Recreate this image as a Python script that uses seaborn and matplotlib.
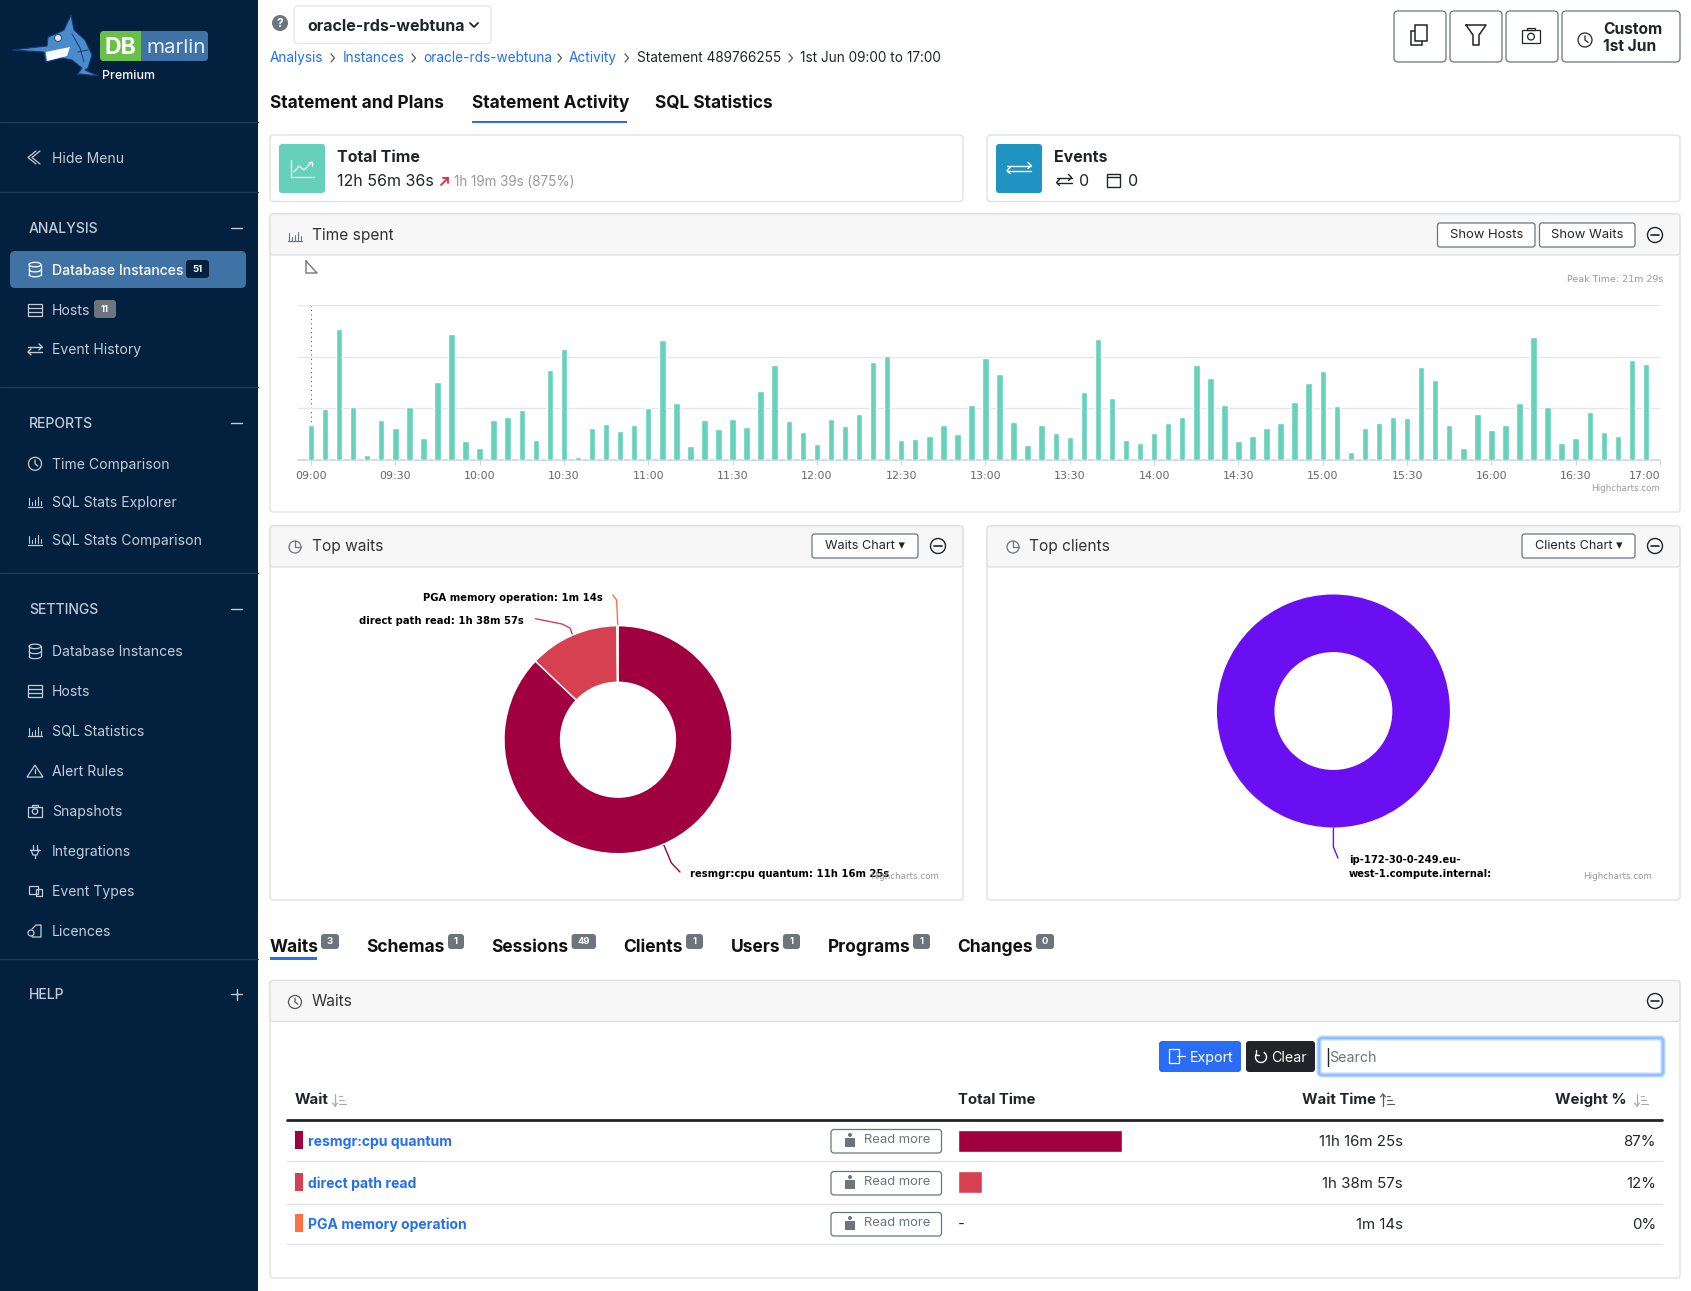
import matplotlib
matplotlib.use('Agg')
import matplotlib.pyplot as plt
from matplotlib.patches import FancyBboxPatch, Rectangle, Circle, Ellipse, Polygon, Arc
import pandas as pd
import seaborn as sns

W, H = 1691, 1291

# seconds per 5 minute bucket, 09:00 to 16:55
time_spent = [
    344, 502, 1289, 522, 49, 394, 315, 522, 216, 768, 1240, 187, 118, 394, 423, 492,
    197, 886, 1092, 30, 315, 354, 285, 344, 512, 1181, 561, 138, 394, 305, 403, 325,
    679, 935, 384, 276, 157, 403, 335, 453, 964, 1023, 197, 207, 236, 344, 256, 541,
    1004, 846, 374, 148, 344, 266, 226, 669, 1191, 610, 197, 167, 266, 364, 423, 935,
    807, 541, 187, 236, 315, 364, 571, 758, 876, 531, 79, 315, 364, 423, 413, 915,
    787, 344, 118, 453, 295, 344, 561, 1210, 522, 167, 216, 472, 276, 236, 984, 945,
]
axis_ticks = ['09:00', '09:30', '10:00', '10:30', '11:00', '11:30', '12:00', '12:30', '13:00',
              '13:30', '14:00', '14:30', '15:00', '15:30', '16:00', '16:30', '17:00']
axis_grid = [507, 1013, 1520]

wait_names = ['resmgr:cpu quantum', 'direct path read', 'PGA memory operation']
wait_seconds = [40585, 5937, 74]
wait_times = ['11h 16m 25s', '1h 38m 57s', '1m 14s']
wait_weights = ['87%', '12%', '0%']
wait_colors = ['#A0003F', '#D64050', '#FF7043']
client_seconds = [46596]
client_colors = ['#6A0FF2']

NAVY = '#03213F'
LINK = '#2470F0'
DARK = '#212529'
BORDER = '#E0E1E3'
SIDE_TXT = '#C3CCD6'

sns.set_theme(style='white')
plt.rcParams['font.family'] = ['Inter', 'DejaVu Sans']

fig = plt.figure(figsize=(W / 100, H / 100), dpi=100, facecolor='white')
ui = fig.add_axes([0, 0, 1, 1])
ui.set_xlim(0, W)
ui.set_ylim(H, 0)
ui.axis('off')


def px_axes(x, y, w, h):
    return fig.add_axes([x / W, 1 - (y + h) / H, w / W, h / H], facecolor='none')


def txt(x, y, s, px=14, color=DARK, weight='normal', ha='left', family=None, z=5):
    kw = {'family': family} if family else {}
    return ui.text(x, y + 0.36 * px, s, fontsize=px * 0.72, color=color, fontweight=weight, ha=ha,
                   va='baseline', zorder=z, **kw)


def box(x0, y0, x1, y1, r=4, fc='white', ec='none', lw=1, z=1):
    p = FancyBboxPatch((x0, y0), x1 - x0, y1 - y0, boxstyle=f'round,pad=0,rounding_size={r}',
                       fc=fc, ec=ec, lw=lw, zorder=z)
    ui.add_patch(p)
    return p


def line(xs, ys, color=SIDE_TXT, lw=1, z=6, **kw):
    ui.plot(xs, ys, color=color, lw=lw, zorder=z, solid_capstyle='round', **kw)


def outline(patch):
    patch.set_zorder(6)
    ui.add_patch(patch)


# icons, small and rough
def icon_db(x, y, c=SIDE_TXT):
    outline(Ellipse((x, y - 5), 12, 4.5, fc='none', ec=c, lw=0.9))
    line([x - 6, x - 6], [y - 5, y + 5], c, 0.9)
    line([x + 6, x + 6], [y - 5, y + 5], c, 0.9)
    for dy in (0, 5):
        outline(Arc((x, y + dy), 12, 4.5, theta1=0, theta2=180, ec=c, lw=0.9))


def icon_hosts(x, y, c=SIDE_TXT):
    outline(Rectangle((x - 7, y - 6), 14, 12, fc='none', ec=c, lw=0.9))
    line([x - 7, x + 7], [y - 2, y - 2], c, 0.9)
    line([x - 7, x + 7], [y + 2, y + 2], c, 0.9)


def icon_arrows(x, y, c=SIDE_TXT, s=7):
    line([x - s, x + s], [y - 2.5, y - 2.5], c, 1)
    line([x + s - 3, x + s, x + s - 3], [y - 5.5, y - 2.5, y + 0.5], c, 1)
    line([x + s, x - s], [y + 2.5, y + 2.5], c, 1)
    line([x - s + 3, x - s, x - s + 3], [y - 0.5, y + 2.5, y + 5.5], c, 1)


def icon_bars(x, y, c=SIDE_TXT):
    line([x - 7, x + 7], [y + 5, y + 5], c, 0.9)
    for dx, h in ((-6, 7), (-3, 3), (0, 5), (3, 8), (6, 4)):
        line([x + dx, x + dx], [y + 3.5, y + 3.5 - h], c, 0.8)


def icon_clock(x, y, c=SIDE_TXT, r=6.5):
    outline(Circle((x, y), r, fc='none', ec=c, lw=0.9))
    line([x, x, x + r * 0.45], [y - r * 0.6, y, y + r * 0.35], c, 0.9)


def icon_pie(x, y, c='#6C757D'):
    outline(Circle((x, y), 6, fc='none', ec=c, lw=0.9))
    line([x, x, x + 6], [y - 6, y, y], c, 0.9)


def icon_minus(x, y):
    outline(Circle((x, y), 7.5, fc='none', ec=DARK, lw=1))
    line([x - 4, x + 4], [y, y], DARK, 1.2)


def icon_triangle(x, y, c=SIDE_TXT):
    outline(Polygon([(x, y - 6), (x + 8, y + 6), (x - 8, y + 6)], closed=True, fc='none', ec=c, lw=0.9))
    line([x, x], [y - 2, y + 2], c, 0.9)


def icon_camera(x, y, c=SIDE_TXT, s=1.0):
    outline(Rectangle((x - 7 * s, y - 4.5 * s), 14 * s, 10 * s, fc='none', ec=c, lw=0.9))
    outline(Rectangle((x - 3 * s, y - 6.5 * s), 6 * s, 2 * s, fc='none', ec=c, lw=0.9))
    outline(Circle((x, y + 0.5 * s), 2.7 * s, fc='none', ec=c, lw=0.9))


def icon_plug(x, y, c=SIDE_TXT):
    line([x - 5, x + 5], [y - 1, y - 1], c, 0.9)
    line([x - 4, x - 2, x + 2, x + 4], [y - 1, y + 4, y + 4, y - 1], c, 0.9)
    line([x, x], [y + 4, y + 7], c, 0.9)
    line([x - 2, x - 2], [y - 1, y - 6], c, 0.9)
    line([x + 2, x + 2], [y - 1, y - 6], c, 0.9)


def icon_types(x, y, c=SIDE_TXT):
    outline(Rectangle((x - 6, y - 5), 9, 8, fc='none', ec=c, lw=0.9))
    outline(Rectangle((x + 1, y - 2), 6, 7, fc='none', ec=c, lw=0.9))


def icon_licence(x, y, c=SIDE_TXT):
    line([x - 3, x + 1, x + 6, x + 6, x - 3], [y - 2, y - 6, y - 6, y + 6, y + 6], c, 0.9)
    outline(Circle((x - 4, y + 2), 3, fc=NAVY, ec=c, lw=0.9))


def icon_sort(x, c='#AAAAAA', up=False):
    line([x, x], [1094, 1106], c, 0.9)
    tip = 1094 if up else 1106
    side = 1097 if up else 1103
    line([x - 2.5, x, x + 2.5], [side, tip, side], c, 0.9)
    for k, ln in enumerate((3, 5, 7)):
        line([x + 4, x + 4 + ln], [1096 + 4 * k, 1096 + 4 * k], c, 0.8)


def panel(x0, y0, x1, y1, head=41):
    box(x0, y0, x1, y1, r=3, fc='white', ec=BORDER, lw=1, z=1)
    box(x0, y0, x1, y0 + head, r=3, fc='#F7F7F7', ec=BORDER, lw=1, z=1.1)


def btn(x0, y0, x1, y1, s, px=13):
    box(x0, y0, x1, y1, r=2.5, fc='white', ec='#6C757D', lw=0.9, z=2)
    txt((x0 + x1) / 2, (y0 + y1) / 2 - 1.5, s, px, DARK, ha='center')


def badge(x0, x1, y0, y1, s, fc='#6C757D', px=9.5):
    box(x0, y0, x1, y1, r=3, fc=fc, z=2)
    txt((x0 + x1) / 2, (y0 + y1) / 2 - 0.5, s, px, 'white', 'bold', ha='center')


# sidebar
ui.add_patch(Rectangle((0, 0), 258, H, fc=NAVY, ec='none', zorder=0.5))
for yy in (122, 192, 387, 573, 959):
    line([0, 258], [yy, yy], '#1E3A57', 1, z=1)

box(100, 31, 208, 61, r=4, fc='#3F72A6', z=2)
box(100, 31, 141, 61, r=4, fc='#6ABF4B', z=2.1)
ui.add_patch(Rectangle((135, 31), 6, 30, fc='#6ABF4B', ec='none', zorder=2.1))
txt(120.5, 46, 'DB', 23, 'white', 'bold', ha='center')
txt(146, 46, 'marlin', 20.5, '#E8EEF4')
txt(102, 74.5, 'Premium', 12.5, 'white', '500')
fish = [(12, 50), (47, 46), (48, 37), (58, 33), (64, 30), (71, 15), (74, 30), (85, 40), (92, 55), (88, 68),
        (85, 70), (98, 76), (80, 74), (77, 75), (82, 68), (72, 60), (62, 58), (46, 62), (44, 52)]
ui.add_patch(Polygon(fish, closed=True, fc='#4A8CCB', ec='#123A78', lw=0.8, zorder=2))
ui.add_patch(Polygon([(46, 52), (70, 47), (67, 56), (47, 61)], closed=True, fc='white', ec='none', zorder=2.1))
ui.add_patch(Circle((58, 38), 3.5, fc='#DDE6EF', ec='#123A78', lw=0.6, zorder=2.1))
line([72, 80, 84], [34, 48, 62], '#123A78', 0.7, z=2.2)
line([78, 88], [52, 50], '#123A78', 0.7, z=2.2)

line([40, 32, 40], [151, 157.5, 164], SIDE_TXT, 0.9)
line([36, 28, 36], [151, 157.5, 164], SIDE_TXT, 0.9)
txt(52, 157.5, 'Hide Menu', 14, SIDE_TXT)

box(10, 251, 246, 288, r=5, fc='#4072A6', z=1)
side_sections = [('ANALYSIS', 227.5, '−'), ('REPORTS', 422.8, '−'), ('SETTINGS', 609.3, '−'), ('HELP', 994.4, '+')]
for name, yy, sign in side_sections:
    txt(29, yy, name, 14, SIDE_TXT, '500')
    line([231, 242], [yy, yy], SIDE_TXT, 1)
    if sign == '+':
        line([236.5, 236.5], [yy - 5.5, yy + 5.5], SIDE_TXT, 1)

side_items = [
    ('Database Instances', 269.6, icon_db), ('Hosts', 309.5, icon_hosts), ('Event History', 349.4, icon_arrows),
    ('Time Comparison', 463.8, icon_clock), ('SQL Stats Explorer', 501.5, icon_bars),
    ('SQL Stats Comparison', 539.6, icon_bars), ('Database Instances', 651.4, icon_db), ('Hosts', 691.3, icon_hosts),
    ('SQL Statistics', 731.2, icon_bars), ('Alert Rules', 771.1, icon_triangle), ('Snapshots', 811, icon_camera),
    ('Integrations', 851, icon_plug), ('Event Types', 891, icon_types), ('Licences', 931, icon_licence),
]
for i, (name, yy, icon) in enumerate(side_items):
    active = i == 0
    txt(52, yy, name, 14, 'white' if active else SIDE_TXT, '500' if active else 'normal')
    icon(35, yy, 'white' if active else SIDE_TXT)
badge(186, 209, 260, 278, '51', fc=NAVY)
badge(94, 116, 300, 318, '11')

# top bar
ui.add_patch(Circle((280, 23), 8, fc='#6C757D', ec='none', zorder=2))
txt(280, 23, '?', 12, 'white', 'bold', ha='center')
box(294, 6, 491, 43.5, r=4, fc='white', ec='#E6E7E9', z=1)
txt(307, 25, 'oracle-rds-webtuna', 16, DARK, 'bold')
line([470, 474, 478], [23, 27, 23], DARK, 1.3)

crumbs = [('Analysis', 270, LINK), ('Instances', 342.5, LINK), ('oracle-rds-webtuna', 423.6, LINK),
          ('Activity', 569, LINK), ('Statement 489766255', 636.6, DARK), ('1st Jun 09:00 to 17:00', 800, DARK)]
for s, xx, c in crumbs:
    txt(xx, 57.5, s, 13.6, c)
for xx in (331, 412, 558, 625, 789):
    line([xx, xx + 3.5, xx], [54, 58, 62], '#555555', 0.9)

txt(270, 102, 'Statement and Plans', 17.2, '#111111', 'bold')
txt(472, 102, 'Statement Activity', 17.2, '#111111', 'bold')
txt(655, 102, 'SQL Statistics', 17.2, '#111111', 'bold')
ui.add_patch(Rectangle((472, 120.5), 155, 2.7, fc='#2A6DF4', ec='none', zorder=2))

for x0, x1 in ((1394, 1446), (1450, 1502), (1506, 1558), (1562, 1680)):
    box(x0, 11, x1, 62, r=4, fc='white', ec='#6C757D', lw=0.9)
outline(Rectangle((1411, 31), 11, 14, fc='white', ec=DARK, lw=1.1))
outline(Rectangle((1415, 25), 12, 16, fc='white', ec=DARK, lw=1.1))
ui.plot([1466, 1486, 1479, 1479, 1473, 1473, 1466], [25, 25, 35, 45, 45, 35, 25], color=DARK, lw=1.1, zorder=6)
icon_camera(1531, 36, DARK, 1.25)
icon_clock(1585, 40, DARK, 7)
txt(1603, 28, 'Custom', 15.5, DARK, 'bold')
txt(1603, 45.5, '1st Jun', 15.5, DARK, 'bold')

# summary cards
box(270, 135, 963, 201.5, r=4, ec=BORDER, lw=1)
box(279, 144, 325, 193, r=3, fc='#66D1BB', z=2)
line([291, 291, 314], [160, 177, 177], 'white', 0.9)
line([294, 299, 304, 312], [172, 166, 170, 162], 'white', 0.9)
line([308, 312, 312], [162, 162, 166], 'white', 0.9)
txt(337, 156, 'Total Time', 16, DARK, 'bold')
txt(337, 180, '12h 56m 36s', 16, DARK)
line([441, 448], [185, 178], '#E8263C', 1.3)
line([443, 448, 448], [178, 178, 183], '#E8263C', 1.3)
txt(454, 181, '1h 19m 39s (875%)', 13.5, '#9A9A9A')

box(987, 135, 1680, 201.5, r=4, ec=BORDER, lw=1)
box(996, 144, 1042, 193, r=3, fc='#1F93C1', z=2)
icon_arrows(1019, 168, 'white', 12)
txt(1054, 156, 'Events', 16, DARK, 'bold')
icon_arrows(1064, 180, DARK, 7.5)
txt(1079, 180, '0', 16, DARK)
outline(Rectangle((1107, 174), 13, 13, fc='none', ec=DARK, lw=1))
line([1107, 1120], [177, 177], DARK, 1)
txt(1128, 180, '0', 16, DARK)

# time spent panel
panel(270, 214, 1680, 512)
icon_bars(295, 236, '#6C757D')
txt(312, 234.5, 'Time spent', 15.5, '#333333')
btn(1437.5, 223, 1535, 247, 'Show Hosts')
btn(1539.5, 223, 1635, 247, 'Show Waits')
icon_minus(1655, 235)
ui.plot([306, 306, 317, 306], [261, 273, 273, 261], color='#777777', lw=1, zorder=6)
txt(1663, 279, 'Peak Time: 21m 29s', 9.5, '#999999', ha='right', family='DejaVu Sans')
txt(1660, 487.5, 'Highcharts.com', 8.8, '#999999', ha='right', family='DejaVu Sans')
ui.plot([311, 311], [305, 425], color='#555555', lw=0.8, ls=(0, (1, 3)), zorder=2)

bar_times = pd.date_range('2024-06-01 09:00', periods=len(time_spent), freq='5min').strftime('%H:%M')
df_time = pd.DataFrame({'bucket': bar_times, 'seconds': time_spent})
ax_time = px_axes(297.5, 305, 1362.5, 155)
sns.barplot(data=df_time, x='bucket', y='seconds', color='#67D2BC', saturation=1, width=0.46, ax=ax_time, zorder=3)
ax_time.set_xlim(-0.96, 96)
ax_time.set_ylim(0, axis_grid[-1])
ax_time.set_yticks(axis_grid)
ax_time.set_yticklabels([])
ax_time.set_xticks(range(0, 97, 6))
ax_time.set_xticklabels(axis_ticks, fontsize=7.9, color='#666666', family='DejaVu Sans')
ax_time.get_xticklabels()[-1].set_ha('right')
ax_time.tick_params(axis='x', length=3.6, width=0.8, color='#CCD6EB', pad=4, bottom=True)
ax_time.tick_params(axis='y', length=0)
ax_time.grid(axis='y', color='#E6E6E6', lw=1)
ax_time.set_axisbelow(True)
ax_time.set_xlabel('')
ax_time.set_ylabel('')
sns.despine(ax=ax_time, left=True, right=True, top=True)
ax_time.spines['bottom'].set_color('#CCD6EB')

# top waits panel
panel(270, 526, 963, 900)
icon_pie(295, 547)
txt(312, 545.5, 'Top waits', 15.5, '#333333')
btn(812, 534, 918, 558, 'Waits Chart ▾', 12.7)
icon_minus(938, 546)

ax_waits = px_axes(618 - 114, 739.7 - 114, 228, 228)
ax_waits.pie(wait_seconds, colors=wait_colors, startangle=90, counterclock=False, radius=1,
             wedgeprops={'width': 0.496, 'edgecolor': 'white', 'linewidth': 1})
ax_waits.set_xlim(-1, 1)
ax_waits.set_ylim(-1, 1)

ui.plot([612.8, 616.6, 617.8], [595, 600, 626], color=wait_colors[2], lw=1, zorder=6)
ui.plot([535.4, 562, 570, 572.6], [618.7, 624, 628, 635], color=wait_colors[1], lw=1, zorder=6)
ui.plot([663.8, 671.4, 680], [845, 863, 872], color=wait_colors[0], lw=1, zorder=6)
txt(603, 597, 'PGA memory operation: 1m 14s', 10, '#000000', 'bold', ha='right', family='DejaVu Sans')
txt(524, 620, 'direct path read: 1h 38m 57s', 10, '#000000', 'bold', ha='right', family='DejaVu Sans')
txt(690.5, 873, 'resmgr:cpu quantum: 11h 16m 25s', 10, '#000000', 'bold', family='DejaVu Sans')
txt(939, 875.5, 'Highcharts.com', 8.8, '#999999', ha='right', family='DejaVu Sans')

# top clients panel
panel(987, 526, 1680, 900)
icon_pie(1013, 547)
txt(1029, 545.5, 'Top clients', 15.5, '#333333')
btn(1522, 534, 1635, 558, 'Clients Chart ▾', 12.7)
icon_minus(1655, 546)

ax_clients = px_axes(1333.4 - 116.5, 711 - 116.5, 233, 233)
ax_clients.pie(client_seconds, colors=client_colors, startangle=90, counterclock=False, radius=1,
               wedgeprops={'width': 0.494, 'edgecolor': 'none'})
ax_clients.set_xlim(-1, 1)
ax_clients.set_ylim(-1, 1)
ui.plot([1333.4, 1333.4, 1338], [828, 847, 858], color=client_colors[0], lw=1, zorder=6)
txt(1349, 859.5, 'ip-172-30-0-249.eu-', 10, '#000000', 'bold', family='DejaVu Sans')
txt(1349, 873.5, 'west-1.compute.internal:', 10, '#000000', 'bold', family='DejaVu Sans')
txt(1652, 875.5, 'Highcharts.com', 8.8, '#999999', ha='right', family='DejaVu Sans')

# lower tabs
lower_tabs = [('Waits', 270, '3', 321, 339), ('Schemas', 366, '1', 448, 464), ('Sessions', 491.7, '49', 571.6, 596),
              ('Clients', 623.5, '1', 686, 703), ('Users', 730.5, '1', 783, 800), ('Programs', 827.7, '1', 913, 930),
              ('Changes', 957.5, '0', 1036, 1054)]
for name, xx, count, b0, b1 in lower_tabs:
    txt(xx, 945.5, name, 17.4, '#111111', 'bold')
    badge(b0, b1, 934, 949, count)
ui.add_patch(Rectangle((270, 957), 47, 2.7, fc='#2A6DF4', ec='none', zorder=2))

# waits table
panel(270, 980.5, 1680, 1278)
icon_clock(295, 1002, '#555555')
txt(312, 1000.5, 'Waits', 15.5, '#333333')
icon_minus(1655, 1001)

box(1159, 1041, 1241, 1072, r=3, fc='#2A6DF4', z=2)
outline(Rectangle((1169, 1049), 10, 14, fc='none', ec='white', lw=0.9))
line([1177, 1185], [1056, 1056], 'white', 0.9)
txt(1190, 1056.5, 'Export', 14.2, 'white')
box(1246, 1041, 1315, 1072, r=3, fc='#212529', z=2)
outline(Arc((1261, 1057), 11, 11, theta1=-60, theta2=215, ec='white', lw=1))
line([1255.5, 1255.5, 1259], [1050, 1054.5, 1054.5], 'white', 1)
txt(1271, 1056.5, 'Clear', 14.2, 'white')
box(1319, 1038, 1663, 1075, r=3, fc='white', ec='#B6D4FE', lw=3.5, z=2)
box(1319, 1038, 1663, 1075, r=3, fc='none', ec='#86B7FE', lw=1, z=3)
line([1328, 1328], [1048, 1066], '#222222', 1)
txt(1329, 1056.5, 'Search', 14.2, '#6C757D')

txt(295, 1099, 'Wait', 15, DARK, 'bold')
txt(958, 1099, 'Total Time', 15, DARK, 'bold')
txt(1376, 1099, 'Wait Time', 15, DARK, 'bold', ha='right')
txt(1627, 1099, 'Weight %', 15, DARK, 'bold', ha='right')
icon_sort(335)
icon_sort(1383, '#555555', up=True)
icon_sort(1637)
line([287, 1662], [1120, 1120], '#212529', 2)
for yy in (1161.3, 1203.5, 1244):
    line([287, 1662], [yy, yy], '#E1E3E8', 1)

row_ys = [1142, 1184, 1225]
for name, yy, time_txt, pct, c in zip(wait_names, row_ys, wait_times, wait_weights, wait_colors):
    ui.add_patch(Rectangle((295, yy - 11), 8, 18, fc=c, ec='none', zorder=3))
    txt(307.6, yy - 1, name, 14, LINK, 'bold')
    btn_y = yy - 12.5
    box(831, btn_y, 941.5, btn_y + 23.5, r=3, fc='white', ec='#6C757D', lw=0.9, z=2)
    ui.add_patch(Rectangle((845, btn_y + 8), 10, 9, fc='#6C757D', ec='none', zorder=3))
    ui.add_patch(Circle((850, btn_y + 5.5), 2, fc='#6C757D', ec='none', zorder=3))
    txt(864, btn_y + 9, 'Read more', 13, '#6C757D')
    txt(1403, yy - 1, time_txt, 15, DARK, ha='right')
    txt(1656, yy - 1, pct, 15, DARK, ha='right')
txt(958, 1223, '-', 15, DARK)

# total time column, the smallest wait is too short to get a bar
df_wait = pd.DataFrame({'wait': wait_names, 'seconds': wait_seconds})
df_wait.loc[df_wait['seconds'] < 60 * 10, 'seconds'] = 0
ax_wait = px_axes(958, 1120, 164, 124)
sns.barplot(data=df_wait, y='wait', x='seconds', hue='wait', palette=wait_colors, saturation=1,
            width=0.54, legend=False, ax=ax_wait)
ax_wait.set_xlim(0, wait_seconds[0])
ax_wait.axis('off')

fig.savefig('out.png', dpi=100, facecolor='white')
